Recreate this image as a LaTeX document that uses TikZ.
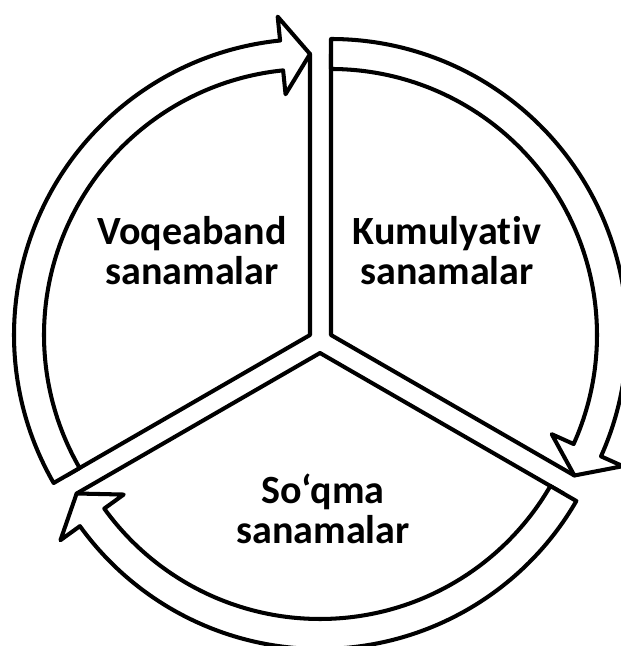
\documentclass[tikz,border=0pt]{standalone}
\usepackage{fontspec}
\setmainfont{Carlito}[Ligatures=NoCommon]

\begin{document}
\begin{tikzpicture}[x=0.02cm,y=0.02cm,line width=2.3pt,line join=round,
    lbl/.style={font=\bfseries\fontsize{22.8}{22.8}\selectfont,align=center}]
    \useasboundingbox (0,0) rectangle (620,646);
    \foreach \cx/\cy/\a [evaluate=\a as \b using \a-120, evaluate=\a as \h using \a-114.2] in {310/311/210,331/311/90,320/293/330} {
        \begin{scope}[shift={(\cx,\cy)}]
            \filldraw[fill=white] (0,0) -- (\b:281) arc[start angle=\b,end angle=\a,radius=281] -- cycle;
            \filldraw[fill=white] (\a:296) arc[start angle=\a,end angle=\h,radius=296] -- (\h:320) -- (\b:281) -- (\h:242) -- (\h:266) arc[start angle=\h,end angle=\a,radius=266] -- cycle;
        \end{scope}
    }
    \node[lbl] (voqea) at (192,395) {Voqeaband\\sanamalar};
    \node[lbl] (kumul) at (447,395) {Kumulyat\kern0.03em iv\\sanamalar};
    \node[lbl] (soqma) at (323,137) {So‘qma\\sanamalar};
\end{tikzpicture}
\end{document}
